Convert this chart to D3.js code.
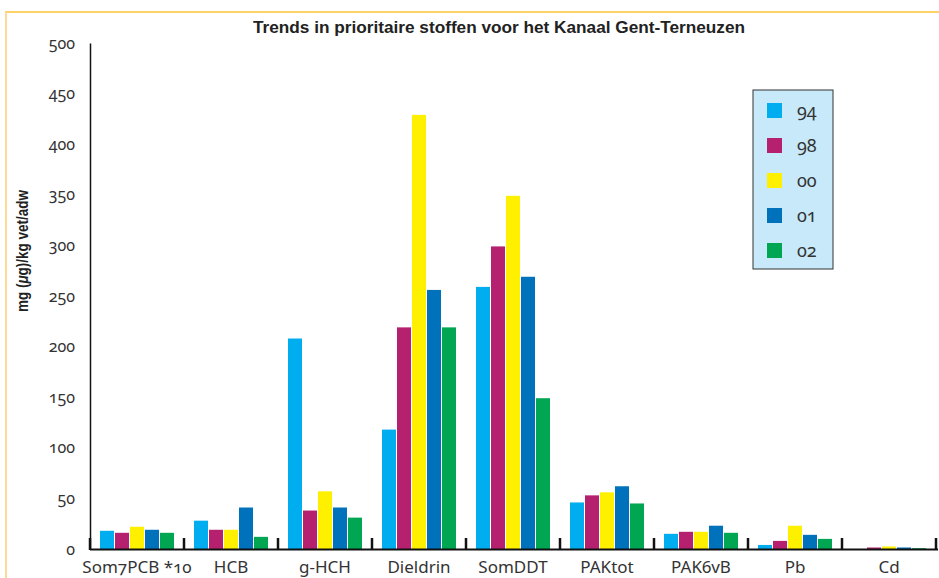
<!DOCTYPE html>
<html>
<head>
<meta charset="utf-8">
<script src="https://cdn.jsdelivr.net/npm/d3@7"></script>
<style>
  html, body { margin: 0; padding: 0; background: #fff; }
  svg { display: block; }
  text { font-family: "Noto Sans", "Open Sans", sans-serif; fill: #333; font-variant-numeric: oldstyle-nums; }
</style>
</head>
<body>
<svg id="chart" width="939" height="578"></svg>
<script>
// Substances (categories along the x axis)
const categories = ["Som7PCB *10", "HCB", "g-HCH", "Dieldrin", "SomDDT", "PAKtot", "PAK6vB", "Pb", "Cd"];
// Sampling years (series)
const years = ["94", "98", "00", "01", "02"];
// Concentrations per year, one value per substance
const values94 = [18, 28, 208, 118, 259, 46, 15, 4, 0];
const values98 = [16, 19, 38, 219, 299, 53, 17, 8, 1.5];
const values00 = [22, 19, 57, 429, 349, 56, 17, 23, 2.5];
const values01 = [19, 41, 41, 256, 269, 62, 23, 14, 1.5];
const values02 = [16, 12, 31, 219, 149, 45, 16, 10, 0.8];
const seriesValues = [values94, values98, values00, values01, values02];
// Y axis tick values
const yTicks = [0, 50, 100, 150, 200, 250, 300, 350, 400, 450, 500];
const colors = ["#00aeef", "#b5216e", "#fff000", "#0071bb", "#00a651"];

const svg = d3.select("#chart");

// Frame lines
svg.append("line").attr("x1", 5).attr("x2", 939).attr("y1", 12).attr("y2", 12)
  .attr("stroke", "#fcd267").attr("stroke-width", 2);
svg.append("line").attr("x1", 6).attr("x2", 6).attr("y1", 12).attr("y2", 578)
  .attr("stroke", "#fddb94").attr("stroke-width", 2);

const x0 = d3.scaleBand().domain(categories).range([90, 936]).padding(0);
const x1 = d3.scaleBand().domain(years).range([10, 84]).paddingInner(1 / 15).paddingOuter(0);
const y = d3.scaleLinear().domain([0, 500]).range([549, 43]);
const color = d3.scaleOrdinal().domain(years).range(colors);

// Title
svg.append("text")
  .attr("x", 499).attr("y", 33)
  .attr("text-anchor", "middle")
  .attr("textLength", 492).attr("lengthAdjust", "spacingAndGlyphs")
  .style("font-family", "'Liberation Sans', sans-serif")
  .style("font-weight", "bold").style("font-size", "16px").style("fill", "#222")
  .text("Trends in prioritaire stoffen voor het Kanaal Gent-Terneuzen");

// Y axis title
svg.append("text")
  .attr("transform", "translate(28,251) rotate(-90)")
  .attr("text-anchor", "middle")
  .attr("textLength", 122).attr("lengthAdjust", "spacingAndGlyphs")
  .style("font-family", "'Liberation Sans', sans-serif")
  .style("font-weight", "bold").style("font-size", "17px").style("fill", "#222")
  .html('mg (<tspan font-style="italic">μ</tspan>g)/kg vet/adw');

// Bars
const groups = svg.append("g").selectAll("g")
  .data(categories)
  .join("g")
  .attr("transform", d => `translate(${x0(d)},0)`);

groups.selectAll("rect")
  .data((c, i) => years.map((yr, s) => ({ yr, v: seriesValues[s][i] })))
  .join("rect")
  .attr("x", d => x1(d.yr))
  .attr("width", x1.bandwidth())
  .attr("y", d => y(d.v))
  .attr("height", d => y(0) - y(d.v))
  .attr("fill", d => color(d.yr));

// Y axis (line + labels, no tick marks)
const yAxis = d3.axisLeft(y).tickValues(yTicks).tickSize(0).tickPadding(15);
const yG = svg.append("g").attr("transform", "translate(90,0)").call(yAxis);
yG.select(".domain").attr("stroke", "#111").attr("stroke-width", 1.5);
yG.selectAll("text").style("font-size", "16px").style("font-family", "'Noto Sans', sans-serif").attr("fill", "#333");

// X axis with boundary ticks and centred labels
svg.append("line").attr("x1", 90).attr("x2", 938).attr("y1", 549.5).attr("y2", 549.5)
  .attr("stroke", "#111").attr("stroke-width", 2);
const boundaries = categories.map(c => x0(c)).concat([x0.range()[1]]);
svg.append("g").selectAll("line")
  .data(boundaries)
  .join("line")
  .attr("x1", d => d).attr("x2", d => d)
  .attr("y1", 538).attr("y2", 550)
  .attr("stroke", "#111").attr("stroke-width", 2.5);

const xAxis = d3.axisBottom(x0).tickSize(0).tickPadding(0);
const xG = svg.append("g").attr("transform", "translate(0,561)").call(xAxis);
xG.select(".domain").remove();
xG.selectAll("text").attr("dy", "0.72em").style("font-size", "17px").attr("fill", "#333");

// Legend
const legend = svg.append("g").attr("transform", "translate(753,90)");
legend.append("rect").attr("width", 80).attr("height", 179)
  .attr("fill", "#c7e9f9").attr("stroke", "#333").attr("stroke-width", 1);
const items = legend.selectAll("g.item")
  .data(years)
  .join("g")
  .attr("class", "item")
  .attr("transform", (d, i) => `translate(14,${13 + i * 35})`);
items.append("rect").attr("width", 15).attr("height", 15).attr("fill", d => color(d));
items.append("text").attr("x", 30).attr("y", 8).attr("dy", "0.35em")
  .style("font-size", "18px").text(d => d);
</script>
</body>
</html>
